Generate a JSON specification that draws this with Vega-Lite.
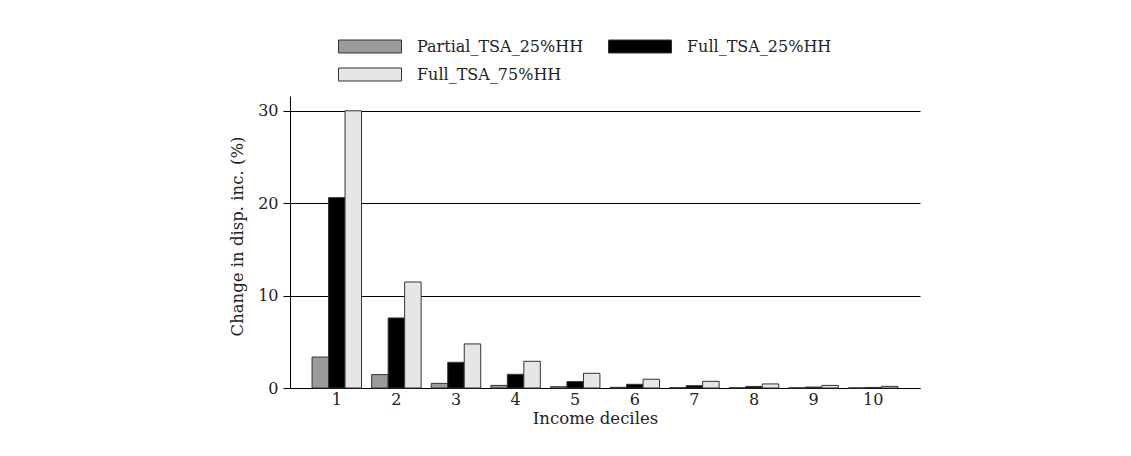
{
  "$schema": "https://vega.github.io/schema/vega-lite/v6.json",
  "width": 630,
  "height": 292,
  "autosize": {"type": "none"},
  "padding": {"left": 290, "top": 96, "right": 211, "bottom": 68},
  "background": "white",
  "config": {
    "font": "DejaVu Serif",
    "view": {"stroke": null},
    "axis": {"labelFont": "DejaVu Serif", "titleFont": "DejaVu Serif", "labelColor": "#222", "titleColor": "#222", "titleFontWeight": "normal", "labelFontSize": 16, "titleFontSize": 16.5},
    "legend": {"labelFont": "DejaVu Serif", "labelFontSize": 16, "labelColor": "#222", "labelLimit": 400}
  },
  "data": {
    "values": [
      {"decile": "1", "scenario": "Partial_TSA_25%HH", "value": 3.35},
      {"decile": "1", "scenario": "Full_TSA_25%HH", "value": 20.6},
      {"decile": "1", "scenario": "Full_TSA_75%HH", "value": 30.0},
      {"decile": "2", "scenario": "Partial_TSA_25%HH", "value": 1.45},
      {"decile": "2", "scenario": "Full_TSA_25%HH", "value": 7.58},
      {"decile": "2", "scenario": "Full_TSA_75%HH", "value": 11.47},
      {"decile": "3", "scenario": "Partial_TSA_25%HH", "value": 0.5},
      {"decile": "3", "scenario": "Full_TSA_25%HH", "value": 2.78},
      {"decile": "3", "scenario": "Full_TSA_75%HH", "value": 4.77},
      {"decile": "4", "scenario": "Partial_TSA_25%HH", "value": 0.28},
      {"decile": "4", "scenario": "Full_TSA_25%HH", "value": 1.48},
      {"decile": "4", "scenario": "Full_TSA_75%HH", "value": 2.89},
      {"decile": "5", "scenario": "Partial_TSA_25%HH", "value": 0.14},
      {"decile": "5", "scenario": "Full_TSA_25%HH", "value": 0.69},
      {"decile": "5", "scenario": "Full_TSA_75%HH", "value": 1.59},
      {"decile": "6", "scenario": "Partial_TSA_25%HH", "value": 0.07},
      {"decile": "6", "scenario": "Full_TSA_25%HH", "value": 0.4},
      {"decile": "6", "scenario": "Full_TSA_75%HH", "value": 0.95},
      {"decile": "7", "scenario": "Partial_TSA_25%HH", "value": 0.04},
      {"decile": "7", "scenario": "Full_TSA_25%HH", "value": 0.25},
      {"decile": "7", "scenario": "Full_TSA_75%HH", "value": 0.72},
      {"decile": "8", "scenario": "Partial_TSA_25%HH", "value": 0.03},
      {"decile": "8", "scenario": "Full_TSA_25%HH", "value": 0.17},
      {"decile": "8", "scenario": "Full_TSA_75%HH", "value": 0.44},
      {"decile": "9", "scenario": "Partial_TSA_25%HH", "value": 0.02},
      {"decile": "9", "scenario": "Full_TSA_25%HH", "value": 0.1},
      {"decile": "9", "scenario": "Full_TSA_75%HH", "value": 0.28},
      {"decile": "10", "scenario": "Partial_TSA_25%HH", "value": 0.01},
      {"decile": "10", "scenario": "Full_TSA_25%HH", "value": 0.06},
      {"decile": "10", "scenario": "Full_TSA_75%HH", "value": 0.18}
    ]
  },
  "mark": {"type": "bar", "stroke": "#333", "strokeWidth": 1},
  "encoding": {
    "x": {
      "field": "decile", "type": "ordinal",
      "sort": ["1","2","3","4","5","6","7","8","9","10"],
      "scale": {"paddingInner": 0.17, "paddingOuter": 0.37},
      "axis": {"title": "Income deciles", "labelAngle": 0, "ticks": false, "domainColor": "black", "labelPadding": 3, "titlePadding": 3, "titleX": 305}
    },
    "xOffset": {
      "field": "scenario", "type": "nominal",
      "sort": ["Partial_TSA_25%HH", "Full_TSA_25%HH", "Full_TSA_75%HH"],
      "scale": {"paddingInner": 0, "paddingOuter": 0}
    },
    "y": {
      "field": "value", "type": "quantitative",
      "scale": {"domain": [0, 31.6], "nice": false},
      "axis": {"title": "Change in disp. inc. (%)", "values": [0, 10, 20, 30], "grid": true, "gridColor": "black", "gridOpacity": 1, "domainColor": "black", "tickColor": "black", "tickSize": 7, "labelPadding": 5, "titlePadding": 12, "titleY": 140}
    },
    "color": {
      "field": "scenario", "type": "nominal",
      "sort": ["Partial_TSA_25%HH", "Full_TSA_25%HH", "Full_TSA_75%HH"],
      "scale": {"domain": ["Partial_TSA_25%HH", "Full_TSA_25%HH", "Full_TSA_75%HH"], "range": ["#9b9b9b", "#000000", "#e6e6e6"]},
      "legend": {
        "title": null, "orient": "none", "legendX": 48, "legendY": -58,
        "direction": "horizontal", "columns": 2, "clipHeight": 17,
        "symbolType": "M-1,-0.206H1V0.206H-1Z", "symbolSize": 3969,
        "symbolStrokeColor": "#333", "symbolStrokeWidth": 1, "symbolOpacity": 1,
        "labelOffset": 15, "columnPadding": 24, "rowPadding": 11, "labelLimit": 400
      }
    }
  }
}
